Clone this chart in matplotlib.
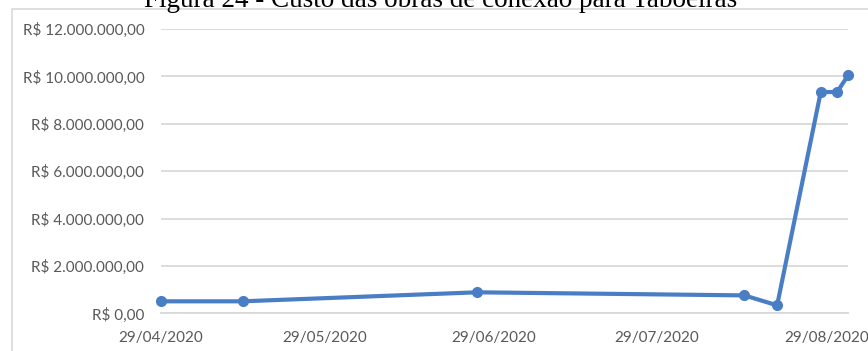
import numpy as np
import pandas as pd
import matplotlib
matplotlib.use('Agg')
import matplotlib.pyplot as plt
import matplotlib.dates as mdates
from matplotlib.ticker import FuncFormatter, FixedLocator
from matplotlib.patches import Rectangle

#Dados do custo das obras por data.
datas = pd.to_datetime(['2020-04-29', '2020-05-14', '2020-06-26', '2020-08-14',
                        '2020-08-20', '2020-08-28', '2020-08-31', '2020-09-02'])
custos = [510000, 510000, 890000, 760000, 340000, 9340000, 9340000, 10040000]

datas_ticks = pd.to_datetime(['2020-04-29', '2020-05-29', '2020-06-29', '2020-07-29', '2020-08-29'])
y_ticks = [0, 2000000, 4000000, 6000000, 8000000, 10000000, 12000000]

titulo = 'Figura 24 - Custo das obras de conexão para Taboeiras'

cor_linha = '#4A7EC4'
cor_texto = '#595959'
cor_grade = '#D9D9D9'


def formata_reais(v, pos=None):
    s = f'{v:,.2f}'
    s = s.replace(',', 'X').replace('.', ',').replace('X', '.')
    return 'R$ ' + s


W, H = 868, 351
fig = plt.figure(figsize=(W / 100, H / 100), dpi=100)

#Moldura do gráfico.
fig.patches.append(Rectangle((12 / W, -0.1), 1.2, 1 - 9 / H + 0.1, transform=fig.transFigure,
                             facecolor='white', edgecolor=cor_grade, linewidth=1.2, zorder=-5))

ax = fig.add_axes([161 / W, 1 - 313.4 / H, (848 - 161) / W, (313.4 - 29) / H])
ax.set_facecolor('none')

ax.plot(datas, custos, color=cor_linha, linewidth=3, marker='o', markersize=7,
        solid_joinstyle='round', solid_capstyle='round', zorder=3, clip_on=False)

ax.set_xlim(datas[0], datas[-1])
ax.set_ylim(0, 12000000)

ax.xaxis.set_major_locator(FixedLocator(mdates.date2num(datas_ticks)))
ax.xaxis.set_major_formatter(mdates.DateFormatter('%d/%m/%Y'))
ax.yaxis.set_major_locator(FixedLocator(y_ticks))
ax.yaxis.set_major_formatter(FuncFormatter(formata_reais))

ax.grid(axis='y', color=cor_grade, linewidth=1.3)
ax.set_axisbelow(True)
for lado in ['top', 'right', 'left']:
    ax.spines[lado].set_visible(False)
ax.spines['bottom'].set_color(cor_grade)
ax.spines['bottom'].set_linewidth(1.3)

ax.tick_params(axis='both', length=0, colors=cor_texto, labelsize=11)
ax.tick_params(axis='y', pad=12)
ax.tick_params(axis='x', pad=13)
for lbl in ax.get_xticklabels() + ax.get_yticklabels():
    lbl.set_fontfamily('Lato')

#Título, cortado na borda superior.
fig.text(441 / W, 1 - 7 / H, titulo, ha='center', va='baseline',
         fontsize=19.5, family='Liberation Serif', color='black')

fig.savefig('out.png', dpi=100)
